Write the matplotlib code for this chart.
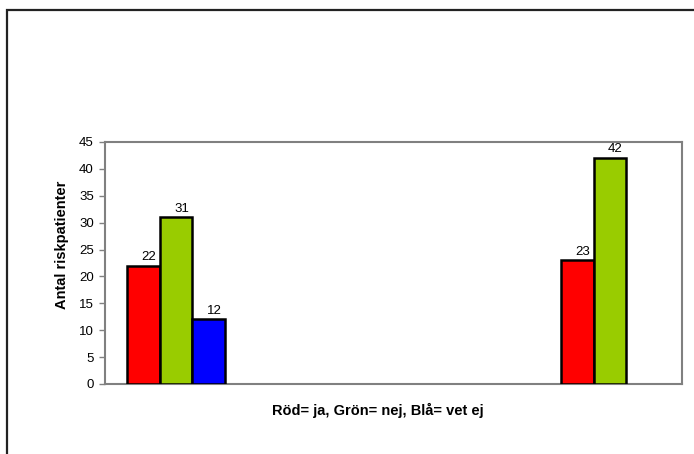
import numpy as np
import matplotlib
matplotlib.use("Agg")
import matplotlib.pyplot as plt
from matplotlib.patches import Rectangle

plt.rcParams["font.family"] = ["Liberation Sans", "DejaVu Sans"]

# Data
groups = [0, 1]
series_names = ["Röd", "Grön", "Blå"]
red_vals = [22, 23]
green_vals = [31, 42]
blue_vals = [12, np.nan]
series_colors = ["#ff0000", "#99cc00", "#0000ff"]
y_ticks = [0, 5, 10, 15, 20, 25, 30, 35, 40, 45]
x_label = "Röd= ja, Grön= nej, Blå= vet ej"
y_label = "Antal riskpatienter"

W, H = 694, 454
fig = plt.figure(figsize=(W / 100, H / 100), dpi=100)

# outer chart frame (top and left edges visible)
fig.patches.append(Rectangle((7 / W, -0.1), 1.2, 1.1 - 10 / H,
                             transform=fig.transFigure, fill=False,
                             edgecolor="#222222", linewidth=1.6))

ax = fig.add_axes([105 / W, (H - 384) / H, 577 / W, (384 - 142) / H])

bar_w = 0.075
offsets = [-bar_w, 0, bar_w]
x = np.array(groups, dtype=float)
for vals, col, off in zip([red_vals, green_vals, blue_vals], series_colors, offsets):
    v = np.array(vals, dtype=float)
    ax.bar(x + off, v, width=bar_w, color=col, edgecolor="black",
           linewidth=1.8, zorder=3)
    for xi, vi in zip(x + off, v):
        if np.isnan(vi):
            continue
        ax.annotate(f"{int(vi)}", (xi, vi), xytext=(4, 2),
                    textcoords="offset points", ha="center", va="bottom",
                    fontsize=9.5)

ax.set_xlim(-0.164, 1.166)
ax.set_ylim(0, 45)
ax.set_yticks(y_ticks)
ax.set_xticks([])
ax.tick_params(axis="y", length=4, width=1, color="#808080", labelsize=9.5,
               pad=4)
for s in ax.spines.values():
    s.set_color("#808080")
    s.set_linewidth(1.5)

ax.set_ylabel(y_label, fontsize=10.5, fontweight="bold")
ax.yaxis.set_label_coords(-(105 - 69) / 577, (384 - 245) / (384 - 142))
ax.set_xlabel(x_label, fontsize=10.5, fontweight="bold")
ax.xaxis.set_label_coords((378 - 105) / 577, -(403 - 384) / (384 - 142))

fig.savefig("out.png", dpi=100)
